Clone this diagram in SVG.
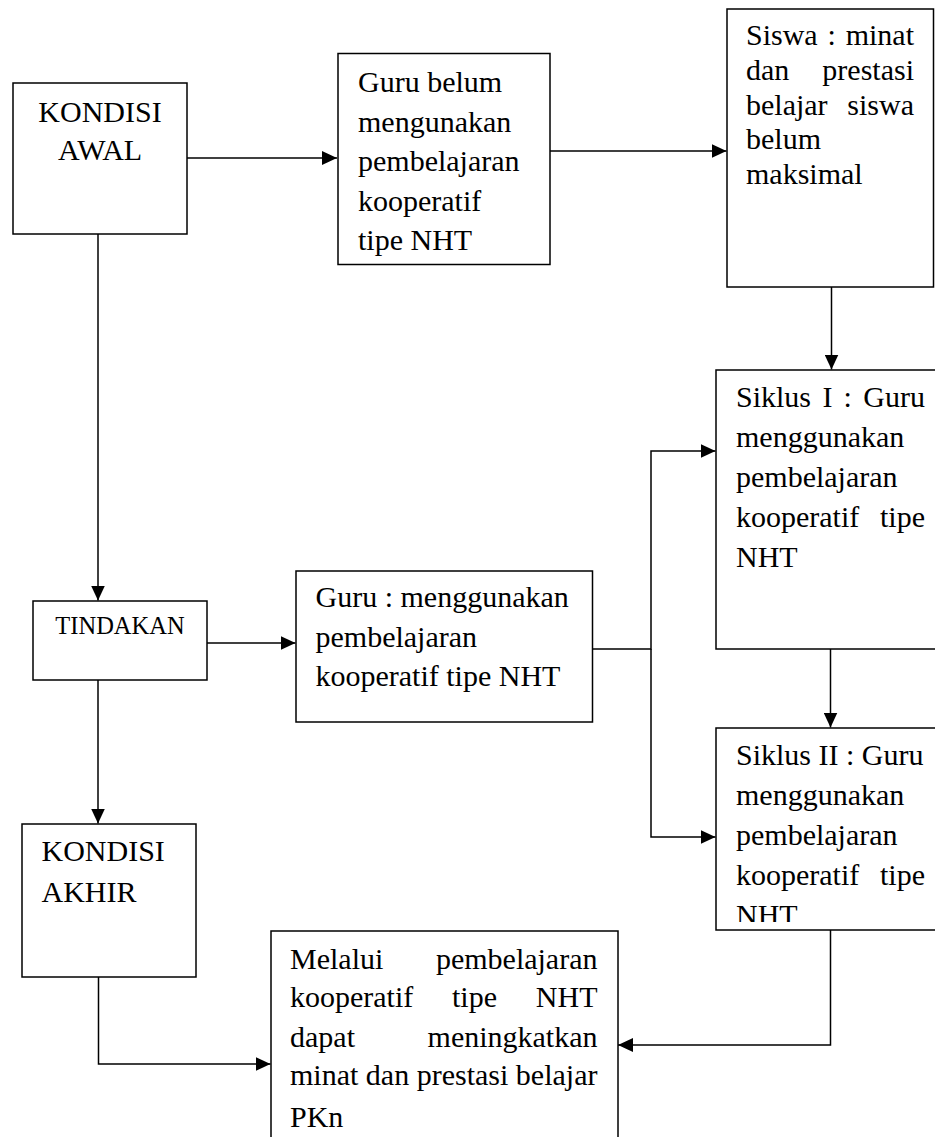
<svg xmlns="http://www.w3.org/2000/svg" width="935" height="1137" viewBox="0 0 935 1137">
<style>
.box{fill:#fff;stroke:#000;stroke-width:1.5}
.t{font-family:"Liberation Serif","Times New Roman",serif;font-size:30px;fill:#000}
.s{font-family:"Liberation Serif","Times New Roman",serif;font-size:24.5px;fill:#000}
.c{fill:none;stroke:#000;stroke-width:1.5}
.e{text-anchor:end}
.m{text-anchor:middle}
</style>
<defs>
<marker id="ah" markerUnits="userSpaceOnUse" markerWidth="15" markerHeight="14" refX="15" refY="7" orient="auto">
<path d="M0,0 L15,7 L0,14 z" fill="#000"/>
</marker>
<clipPath id="clipS2"><rect x="716" y="728" width="220" height="194"/></clipPath>
</defs>
<rect width="935" height="1137" fill="#fff"/>

<g id="connectors">
<path class="c" d="M187,158 H337" marker-end="url(#ah)"/>
<path class="c" d="M550,151 H726.5" marker-end="url(#ah)"/>
<path class="c" d="M831.5,287 V369.5" marker-end="url(#ah)"/>
<path class="c" d="M98,234 V600.5" marker-end="url(#ah)"/>
<path class="c" d="M207,643 H295.5" marker-end="url(#ah)"/>
<path class="c" d="M98,680 V823.5" marker-end="url(#ah)"/>
<path class="c" d="M592.5,649 H651 V451 H715.5" marker-end="url(#ah)"/>
<path class="c" d="M651,649 V837 H715.5" marker-end="url(#ah)"/>
<path class="c" d="M830.5,649 V727.5" marker-end="url(#ah)"/>
<path class="c" d="M830.5,930 V1045 H618" marker-end="url(#ah)"/>
<path class="c" d="M98.5,977 V1064 H270.5" marker-end="url(#ah)"/>
</g>

<g id="kondisi-awal">
<rect class="box" x="13" y="83" width="174" height="151"/>
<text class="t m" x="100" y="122">KONDISI</text>
<text class="t m" x="100" y="160">AWAL</text>
</g>

<g id="guru-belum">
<rect class="box" x="338" y="53.5" width="212" height="211"/>
<text class="t" x="358" y="92">Guru belum</text>
<text class="t" x="358" y="131.5">mengunakan</text>
<text class="t" x="358" y="171">pembelajaran</text>
<text class="t" x="358" y="210.5">kooperatif</text>
<text class="t" x="358" y="250">tipe NHT</text>
</g>

<g id="siswa">
<rect class="box" x="727" y="9" width="206.5" height="278"/>
<text class="t" x="746" y="45">Siswa</text>
<text class="t" x="827.5" y="45">:</text>
<text class="t e" x="914" y="45">minat</text>
<text class="t" x="746" y="80">dan</text>
<text class="t e" x="914" y="80">prestasi</text>
<text class="t" x="746" y="114.5">belajar</text>
<text class="t e" x="914" y="114.5">siswa</text>
<text class="t" x="746" y="149">belum</text>
<text class="t" x="746" y="184">maksimal</text>
</g>

<g id="siklus-1">
<rect class="box" x="716" y="370" width="230" height="279"/>
<text class="t" x="736" y="407">Siklus</text>
<text class="t" x="822.5" y="407">I</text>
<text class="t" x="843.5" y="407">:</text>
<text class="t e" x="925" y="407">Guru</text>
<text class="t" x="736" y="446.5">menggunakan</text>
<text class="t" x="736" y="486.5">pembelajaran</text>
<text class="t" x="736" y="526.5">kooperatif</text>
<text class="t e" x="925" y="526.5">tipe</text>
<text class="t" x="736" y="566.5">NHT</text>
</g>

<g id="siklus-2">
<rect class="box" x="716" y="728" width="230" height="202"/>
<g clip-path="url(#clipS2)">
<text class="t" x="736" y="765">Siklus II : Guru</text>
<text class="t" x="736" y="804.5">menggunakan</text>
<text class="t" x="736" y="844.5">pembelajaran</text>
<text class="t" x="736" y="884.5">kooperatif</text>
<text class="t e" x="925" y="884.5">tipe</text>
<text class="t" x="736" y="925">NHT</text>
</g>
</g>

<g id="tindakan">
<rect class="box" x="33" y="601" width="174" height="79"/>
<text class="s m" x="120" y="633.5">TINDAKAN</text>
</g>

<g id="guru-menggunakan">
<rect class="box" x="296" y="571" width="296.5" height="151"/>
<text class="t" x="315.5" y="607">Guru : menggunakan</text>
<text class="t" x="315.5" y="646.5">pembelajaran</text>
<text class="t" x="315.5" y="686">kooperatif tipe NHT</text>
</g>

<g id="kondisi-akhir">
<rect class="box" x="22" y="824" width="174" height="153"/>
<text class="t" x="41.5" y="861">KONDISI</text>
<text class="t" x="41.5" y="901.5">AKHIR</text>
</g>

<g id="melalui">
<rect class="box" x="271" y="931" width="347" height="230"/>
<text class="t" x="290" y="968.5">Melalui</text>
<text class="t e" x="597.5" y="968.5">pembelajaran</text>
<text class="t" x="290" y="1006.5">kooperatif</text>
<text class="t" x="452" y="1006.5">tipe</text>
<text class="t e" x="597.5" y="1006.5">NHT</text>
<text class="t" x="290" y="1046.5">dapat</text>
<text class="t e" x="597.5" y="1046.5">meningkatkan</text>
<text class="t" x="290" y="1085" textLength="307.5" lengthAdjust="spacing">minat dan prestasi belajar</text>
<text class="t" x="290" y="1126.5">PKn</text>
</g>
</svg>
